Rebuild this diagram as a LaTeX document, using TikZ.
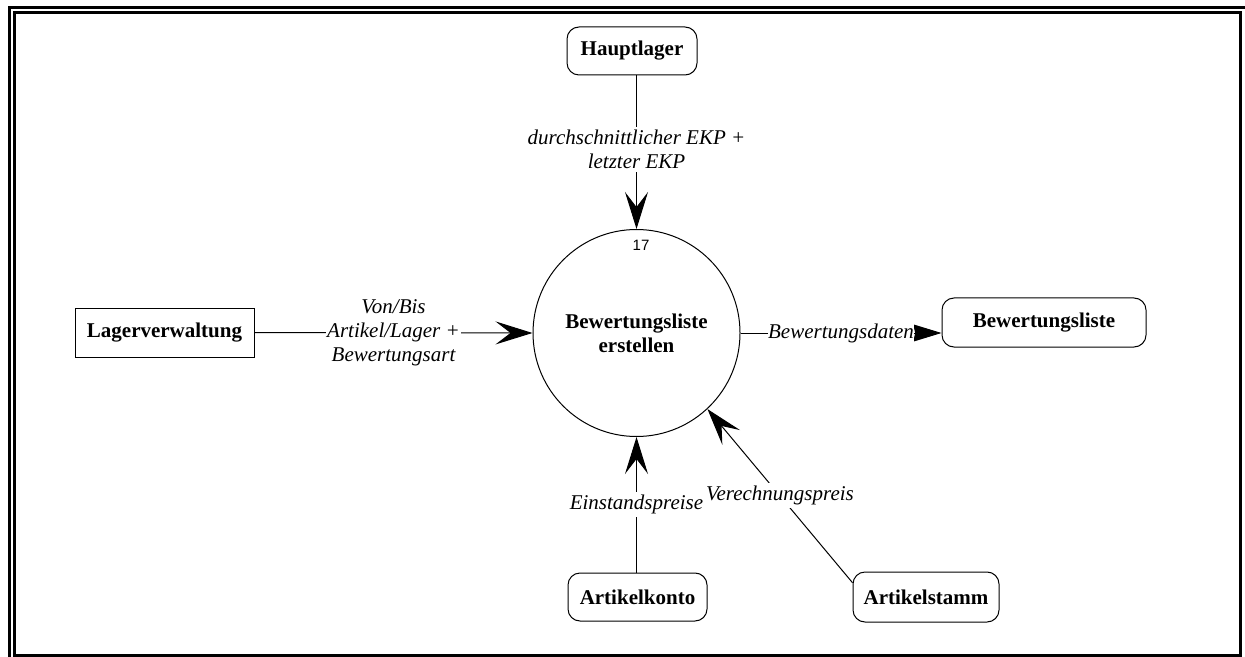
\documentclass[tikz,border=0pt]{standalone}
\usepackage{fontspec}
\setmainfont{Liberation Serif}
\newfontfamily\numfont{Liberation Sans}
\usetikzlibrary{arrows.meta}
\begin{document}
\begin{tikzpicture}[x=0.5pt,y=-0.5pt,
  line width=0.5pt,
  every node/.style={font=\fontsize{10.5}{12}\selectfont},
  framerule/.style={line width=1.5pt},
  extbox/.style={draw, inner sep=0pt, font=\fontsize{10.5}{12}\selectfont\bfseries},
  storebox/.style={extbox, rounded corners=6pt},
  procnode/.style={draw, circle, inner sep=0pt, minimum size=103.5pt, align=center,
    font=\fontsize{10.5}{12}\selectfont\bfseries},
  flowlbl/.style={fill=white, inner xsep=0.5pt, inner ysep=1.5pt, align=center,
    font=\fontsize{10.5}{12}\selectfont\itshape},
  flow/.style={-{Stealth[length=18.5pt, width=11.5pt, inset=7.5pt]}},
  flowsmall/.style={-{Stealth[length=14pt, width=8.5pt, inset=0.8pt]}}
]
\useasboundingbox (0,0) rectangle (1245,657);

% double frame
\draw[framerule] (9,657) -- (9,8) -- (1245,8);
\draw[framerule] (14,13) rectangle (1240.5,655.5);

% nodes
\node[procnode] (proc) at (636.5,333) {Bewertungsliste\\erstellen};
\node[font=\fontsize{7.5}{9}\selectfont\numfont] (num) at (641,245) {17};
\node[storebox, minimum width=65pt, minimum height=24pt] (hl) at (632,51) {Hauptlager};
\node[extbox, minimum width=89.5pt, minimum height=24.5pt] (lv) at (164.5,332.5) {Lagerverwaltung};
\node[storebox, minimum width=102pt, minimum height=24.5pt] (bl) at (1044,322.5) {Bewertungsliste};
\node[storebox, minimum width=69.5pt, minimum height=24pt] (ak) at (637.5,597) {Artikelkonto};
\node[storebox, minimum width=73pt, minimum height=25pt] (as) at (926,597) {Artikelstamm};

% data flows
\draw[flow] (proc.north |- hl.south) -- (proc.north)
  node[flowlbl, midway, yshift=1.5pt] (lhl) {durchschnittlicher EKP +\\letzter EKP};
\draw[flow] (lv.east) -- (proc.west)
  node[flowlbl, midway] (llv) {Von/Bis\\Artikel/Lager +\\Bewertungsart};
\draw[flowsmall] (proc.east) -- (bl.west |- proc.east)
  node[flowlbl, midway, inner xsep=0pt] (lbl) {Bewertungsdaten};
\draw[flow] (proc.south |- ak.north) -- (proc.south)
  node[flowlbl, midway] (lak) {Einstandspreise};
\draw[flow] (as.169) -- (proc.-47)
  node[flowlbl, midway] (las) {Verechnungspreis};
\end{tikzpicture}
\end{document}
